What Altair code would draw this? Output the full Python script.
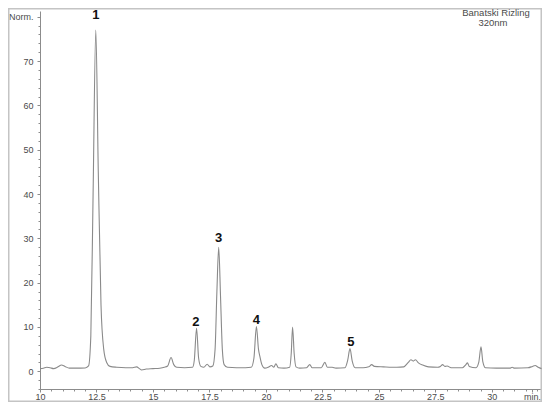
import altair as alt
import pandas as pd

# Chromatogram trace: retention time (min) and signal (Norm.)
times = [10.0, 10.15, 10.3, 10.45, 10.6, 10.8, 10.95, 11.1, 11.3, 11.6, 12.0, 12.15,
         12.25, 12.35, 12.47, 12.58, 12.7, 12.82, 12.95, 13.1, 13.4, 13.8, 14.1, 14.28,
         14.4, 14.5, 14.7, 15.0, 15.3, 15.5, 15.65, 15.8, 15.92, 16.05, 16.4, 16.75,
         16.83, 16.93, 17.02, 17.12, 17.25, 17.4, 17.52, 17.65, 17.75, 17.83, 17.91,
         17.99, 18.07, 18.15, 18.3, 18.7, 19.1, 19.35, 19.47, 19.58, 19.67, 19.73,
         19.82, 19.95, 20.1, 20.25, 20.35, 20.44, 20.55, 20.8, 21.05, 21.12, 21.18,
         21.25, 21.33, 21.5, 21.8, 21.94, 22.05, 22.45, 22.61, 22.72, 22.93, 23.1,
         23.5, 23.62, 23.72, 23.82, 23.95, 24.3, 24.55, 24.68, 24.8, 25.2, 25.8, 26.1,
         26.3, 26.42, 26.52, 26.62, 26.75, 26.95, 27.2, 27.6, 27.72, 27.82, 27.92,
         28.02, 28.2, 28.7, 28.85, 28.92, 29.0, 29.3, 29.42, 29.52, 29.6, 29.72, 30.2,
         30.8, 30.9, 31.0, 31.6, 31.8, 31.92, 32.05, 32.2]
signal = [0.6, 0.7, 0.9, 0.8, 0.6, 1.0, 1.4, 1.1, 0.7, 0.7, 0.75, 1.2,
          8.0, 40.0, 77.0, 45.0, 15.0, 5.0, 2.0, 1.1, 0.9, 0.8, 0.8, 1.0,
          0.6, 0.3, 0.5, 0.6, 0.7, 0.9, 1.2, 3.1, 1.5, 0.9, 0.8, 0.9,
          2.5, 9.7, 3.0, 1.1, 0.9, 1.6, 1.0, 1.2, 5.0, 18.0, 28.0,
          17.0, 5.0, 1.5, 0.9, 0.8, 0.8, 0.9, 3.0, 10.1, 5.0, 3.4,
          1.5, 0.7, 0.9, 1.3, 0.9, 1.7, 0.8, 0.7, 0.9, 4.0, 10.0,
          4.0, 1.0, 0.7, 0.8, 1.5, 0.8, 0.8, 2.0, 0.9, 0.9, 0.7,
          0.8, 2.5, 5.1, 2.3, 0.8, 0.8, 1.0, 1.5, 1.1, 1.0, 0.9, 1.0,
          2.0, 2.6, 2.3, 2.6, 1.9, 1.4, 1.0, 0.9, 1.1, 1.5, 1.1,
          1.2, 0.8, 0.8, 1.5, 1.9, 1.1, 0.8, 2.0, 5.5, 2.2, 0.8, 0.7,
          0.7, 0.9, 0.7, 0.8, 1.1, 1.3, 0.9, 0.6]

# Peak labels
peak_names = ["1", "2", "3", "4", "5"]
peak_times = [12.47, 16.9, 17.91, 19.58, 23.76]
peak_label_y = [80.4, 11.2, 30.1, 11.5, 6.7]

# Axis ticks
x_major = [10, 12.5, 15, 17.5, 20, 22.5, 25, 27.5, 30, 31.78]
x_minor = [10 + 0.5 * i for i in range(45)]
y_major = [0, 10, 20, 30, 40, 50, 60, 70, 80]
y_minor = [-4 + 2 * i for i in range(43)]

title_lines = ["Banatski Rizling", "320nm"]

df = pd.DataFrame({"t": times, "v": signal})
lab = pd.DataFrame({"t": peak_times, "v": peak_label_y, "name": peak_names})

W, H = 502, 378
xs = alt.Scale(domain=[10, 32.22], nice=False, zero=False)
ys = alt.Scale(domain=[-4, 81.3], nice=False, zero=False)

AX = "#8c8c8c"
LAB = "#4a4a4a"
FONT = "Liberation Sans"

base = alt.Chart(df)

minor = base.mark_line(opacity=0).encode(
    x=alt.X("t:Q", scale=xs, axis=alt.Axis(orient="bottom", values=x_minor, labels=False,
                                           domain=False, grid=False, tickSize=2,
                                           tickColor=AX, title=None)),
    y=alt.Y("v:Q", scale=ys, axis=alt.Axis(orient="left", values=y_minor, labels=False,
                                           domain=False, grid=False, tickSize=2,
                                           tickColor=AX, title=None)),
)

major = base.mark_line(color="#8a8a8a", strokeWidth=1.1, interpolate="monotone").encode(
    x=alt.X("t:Q", scale=xs, axis=alt.Axis(
        orient="bottom", values=x_major, format=".1~f", grid=False, tickSize=3, tickColor=AX,
        domainColor=AX, labelColor=LAB, labelFont=FONT, labelFontSize=9, labelPadding=0,
        labelFlush=False, labelOverlap=False,
        labelExpr="datum.value > 31 ? 'min.' : datum.label", title=None)),
    y=alt.Y("v:Q", scale=ys, axis=alt.Axis(
        orient="left", values=y_major, grid=False, tickSize=3, tickColor=AX,
        domainColor=AX, labelColor=LAB, labelFont=FONT, labelFontSize=9, labelPadding=4,
        labelExpr="datum.value == 80 ? 'Norm.' : datum.label", title=None)),
)

labels = alt.Chart(lab).mark_text(font=FONT, fontSize=13, fontWeight="bold",
                                  color="#111111", baseline="middle").encode(
    x=alt.X("t:Q", scale=xs, axis=None),
    y=alt.Y("v:Q", scale=ys, axis=None),
    text="name:N",
)

one = pd.DataFrame({"k": [0]})
title1 = alt.Chart(one).mark_text(text=title_lines[0], font=FONT, fontSize=9.5,
                                  color=LAB, baseline="middle").encode(
    x=alt.value(456), y=alt.value(2))
title2 = alt.Chart(one).mark_text(text=title_lines[1], font=FONT, fontSize=9.5,
                                  color=LAB, baseline="middle").encode(
    x=alt.value(453), y=alt.value(12))

frame = alt.Chart(one).mark_rect(fill=None, stroke="#c4c4c4", strokeWidth=1.5).encode(
    x=alt.value(-31.25), x2=alt.value(501.25), y=alt.value(-2.25), y2=alt.value(390.25))

chart = alt.layer(frame, minor, major, labels, title1, title2).resolve_axis(
    x="independent", y="independent"
).properties(
    width=W, height=H,
    autosize=alt.AutoSizeParams(type="none"),
    padding={"left": 32, "top": 3, "right": 0, "bottom": 13},
    background="white",
).configure_view(stroke=None)

chart.save("out.html", embed_options={"renderer": "svg", "actions": False})
